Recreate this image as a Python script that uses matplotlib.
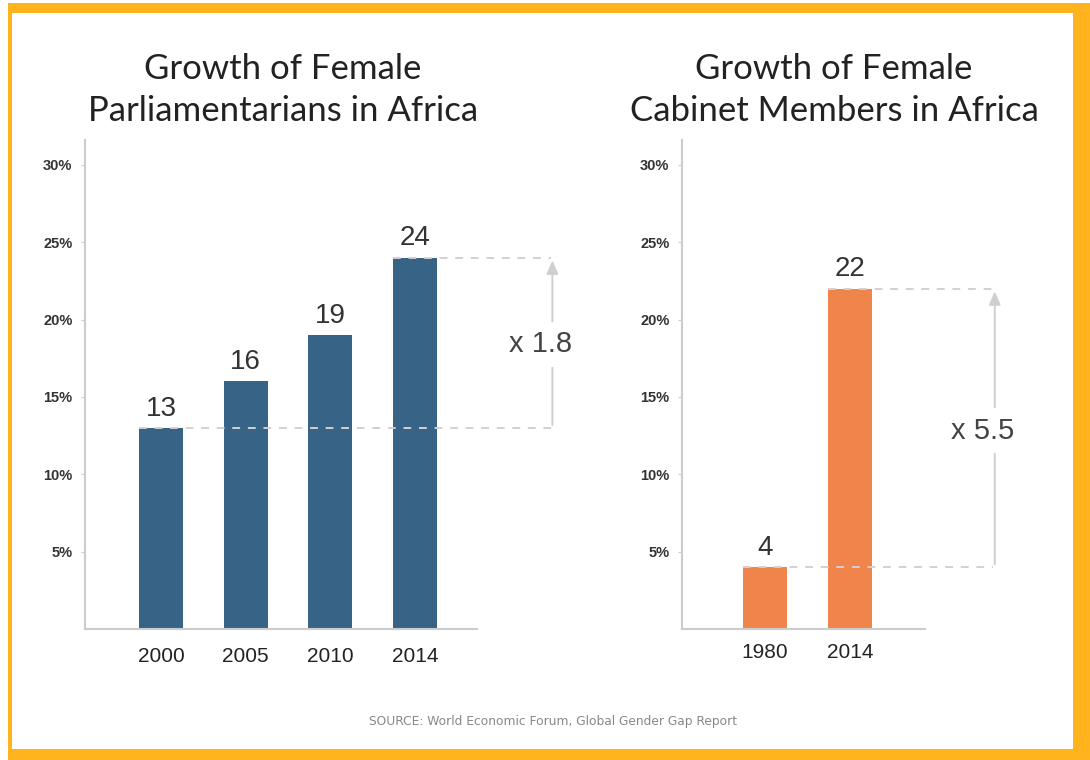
import matplotlib.pyplot as plt
from matplotlib.patches import Rectangle

# data
parl_years = ['2000', '2005', '2010', '2014']
parl_values = [13, 16, 19, 24]
cab_years = ['1980', '2014']
cab_values = [4, 22]
yticks = [5, 10, 15, 20, 25, 30]
ytick_labels = ['5%', '10%', '15%', '20%', '25%', '30%']

blue = '#376387'
orange = '#EF854A'
frame = '#FFB41E'
axis_grey = '#cccccc'
dash_grey = '#d8cdd3'

fig = plt.figure(figsize=(10.9, 7.6), dpi=100)
W, H = 1090, 760

# orange frame around a white card
fig.patches.append(Rectangle((8 / W, 0), 1 - 8 / W, 1 - 3 / H, transform=fig.transFigure,
                             facecolor=frame, edgecolor='none', zorder=-2))
fig.patches.append(Rectangle((12 / W, 11 / H), (1073 - 12) / W, (748 - 12) / H,
                             transform=fig.transFigure, facecolor='white',
                             edgecolor='none', zorder=-1))


def px_axes(x0, x1, y0, y1):
    a = fig.add_axes([x0 / W, 1 - y1 / H, (x1 - x0) / W, (y1 - y0) / H])
    a.set_zorder(1)
    a.patch.set_alpha(0)
    return a


def draw_panel(ax, cats, vals, color, xlim, dash_end, arrow_x, xpad):
    x = list(range(len(cats)))
    ax.bar(x, vals, width=0.52, color=color, zorder=2)
    ax.set_xlim(*xlim)
    ax.set_ylim(0, 31.6)
    ax.set_xticks(x)
    ax.set_xticklabels(cats, fontsize=15, family='Liberation Sans', color='#222222')
    ax.set_yticks(yticks)
    ax.set_yticklabels(ytick_labels, fontsize=10.5, family='Liberation Sans',
                       fontweight='bold', color='#333333')
    ax.tick_params(axis='x', length=0, pad=xpad)
    ax.tick_params(axis='y', length=3, color=axis_grey, pad=6)
    for s in ['top', 'right']:
        ax.spines[s].set_visible(False)
    for s in ['left', 'bottom']:
        ax.spines[s].set_color(axis_grey)
        ax.spines[s].set_linewidth(1.5)
    for xi, v in zip(x, vals):
        ax.text(xi, v + 0.4, str(v), ha='center', va='bottom', fontsize=20,
                family='Liberation Sans', color='#333333')
    lo, hi = vals[0], vals[-1]
    ax.plot([x[0] - 0.26, dash_end], [lo, lo], ls=(0, (4, 4)), color=dash_grey,
            lw=1.4, zorder=3, clip_on=False)
    ax.plot([x[-1] - 0.26, dash_end], [hi, hi], ls=(0, (4, 4)), color=dash_grey,
            lw=1.4, zorder=3, clip_on=False)
    ax.annotate('', xy=(arrow_x, hi), xytext=(arrow_x, lo), annotation_clip=False,
                arrowprops=dict(arrowstyle='-|>,head_width=0.35,head_length=0.8',
                                color='#cfcfcf', lw=1.4))
    return ax


ax1 = px_axes(85, 477, 140, 629)
draw_panel(ax1, parl_years, parl_values, blue, (-0.898, 3.73), 4.6, 4.62, 13)
ax1.text(4.48, 18.4, 'x 1.8', ha='center', va='center', fontsize=21,
         family='Liberation Sans', color='#444444',
         bbox=dict(facecolor='white', edgecolor='none', pad=6), clip_on=False)

ax2 = px_axes(682, 925, 140, 629)
draw_panel(ax2, cab_years, cab_values, orange, (-0.976, 1.88), 2.68, 2.7, 10)
ax2.text(2.56, 12.8, 'x 5.5', ha='center', va='center', fontsize=21,
         family='Liberation Sans', color='#444444',
         bbox=dict(facecolor='white', edgecolor='none', pad=6), clip_on=False)

fig.text(283 / W, 1 - 90 / H, 'Growth of Female\nParliamentarians in Africa',
         ha='center', va='center', fontsize=25, family='Lato', color='#222222',
         linespacing=1.35)
fig.text(834 / W, 1 - 90 / H, 'Growth of Female\nCabinet Members in Africa',
         ha='center', va='center', fontsize=25, family='Lato', color='#222222',
         linespacing=1.35)
fig.text(553 / W, 1 - 722 / H, 'SOURCE: World Economic Forum, Global Gender Gap Report',
         ha='center', va='center', fontsize=8.8, family='DejaVu Sans', color='#888888')

fig.savefig('out.png', dpi=100)
